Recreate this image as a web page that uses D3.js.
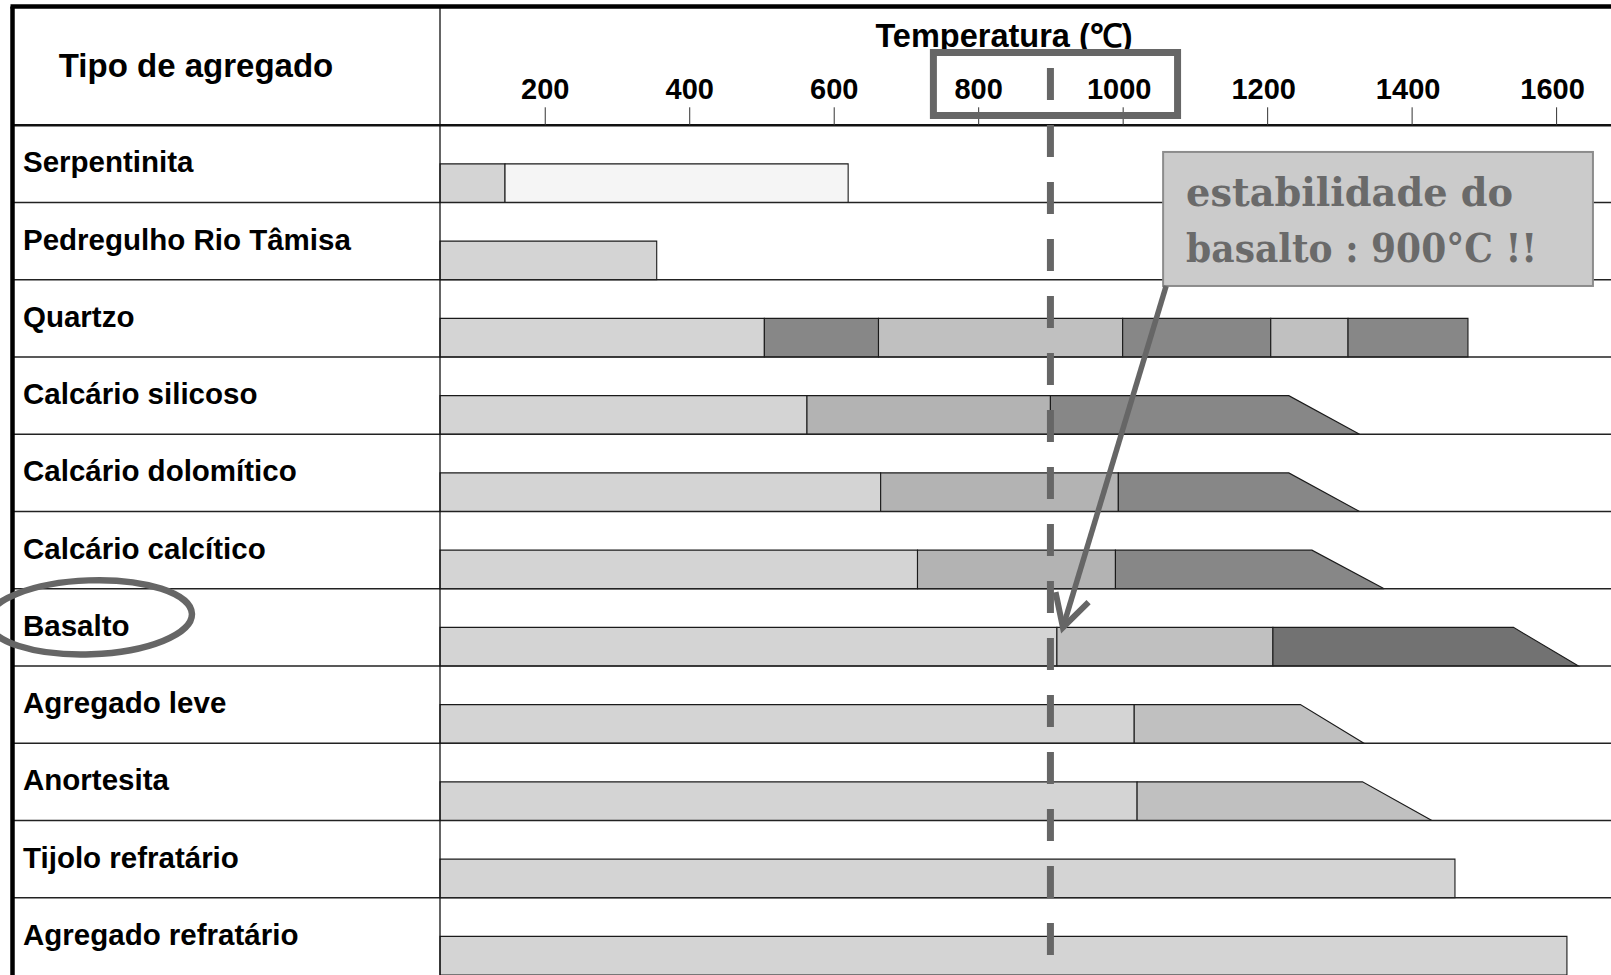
<!DOCTYPE html>
<html><head><meta charset="utf-8">
<script src="https://cdn.jsdelivr.net/npm/d3@7"></script>
<style>html,body{margin:0;padding:0;background:#fff;overflow:hidden}</style>
</head><body>
<svg id="chart" width="1611" height="975"></svg>
<script>
// ---------- data ----------
const materials = ["Serpentinita","Pedregulho Rio Tâmisa","Quartzo","Calcário silicoso","Calcário dolomítico","Calcário calcítico","Basalto","Agregado leve","Anortesita","Tijolo refratário","Agregado refratário"];
// segment end temperatures (°C) per material
const segEnds = [
  [145, 620],
  [355],
  [504, 662, 1000, 1205, 1312, 1478],
  [563, 900, 1230],
  [665, 994, 1230],
  [716, 990, 1262],
  [909, 1208, 1541],
  [1016, 1246],
  [1020, 1332],
  [1460],
  [1615]
];
// shade of each segment
const segShades = [
  ["light","pale"],
  ["light"],
  ["light","dark","mid","dark","mid","dark"],
  ["light","midDark","dark"],
  ["light","midDark","dark"],
  ["light","midDark","dark"],
  ["light","mid","darker"],
  ["light","mid"],
  ["light","mid"],
  ["light"],
  ["light"]
];
// temperature reached by the sloped tail at the bottom of the bar (null = square end)
const tailEnds = [null, null, null, 1328, 1328, 1362, 1631, 1334, 1428, null, null];
const tickValues = [200, 400, 600, 800, 1000, 1200, 1400, 1600];
const axisTitle = "Temperatura (℃)";
const columnTitle = "Tipo de agregado";
const highlightTemp = 900;
const calloutLines = ["estabilidade do", "basalto : 900°C !!"];

// ---------- layout ----------
const W = 1611, H = 975;
const frameX = 12.5, frameY = 6.5, colX = 440, headerBottom = 125.3;
const shadeColor = {light:"#d4d4d4", pale:"#f5f5f5", mid:"#c0c0c0", midDark:"#b3b3b3", dark:"#878787", darker:"#727272"};
const font = "'Liberation Sans', Arial, Helvetica, sans-serif";

const svg = d3.select("#chart");
const x = d3.scaleLinear().domain([55, 1676]).range([colX, W]);
const y = d3.scaleBand().domain(materials).range([headerBottom, H]).paddingInner(0).paddingOuter(0);
const bw = y.bandwidth();

// bars
const gBars = svg.append("g");
materials.forEach((m, i) => {
  const top = y(m) + bw / 2, bot = y(m) + bw;
  let start = x.domain()[0];
  segEnds[i].forEach((e, j) => {
    const last = j === segEnds[i].length - 1;
    const tail = last && tailEnds[i] != null ? tailEnds[i] : e;
    const pts = [[x(start), top], [x(e), top], [x(tail), bot], [x(start), bot]];
    gBars.append("polygon")
      .attr("points", pts.map(p => p.join(",")).join(" "))
      .attr("fill", shadeColor[segShades[i][j]])
      .attr("stroke", "#1a1a1a").attr("stroke-width", 1.1);
    start = e;
  });
});

// row lines
const gGrid = svg.append("g");
materials.slice(1).forEach(m => {
  gGrid.append("line").attr("x1", frameX).attr("x2", W).attr("y1", y(m)).attr("y2", y(m))
    .attr("stroke", "#222").attr("stroke-width", 1.4);
});
// header bottom
gGrid.append("line").attr("x1", frameX).attr("x2", W).attr("y1", headerBottom).attr("y2", headerBottom)
  .attr("stroke", "#111").attr("stroke-width", 2.6);
// column divider
gGrid.append("line").attr("x1", colX).attr("x2", colX).attr("y1", frameY).attr("y2", H)
  .attr("stroke", "#111").attr("stroke-width", 1.3);
// frame
gGrid.append("line").attr("x1", frameX - 2).attr("x2", W).attr("y1", frameY).attr("y2", frameY)
  .attr("stroke", "#000").attr("stroke-width", 4.5);
gGrid.append("line").attr("x1", frameX).attr("x2", frameX).attr("y1", frameY).attr("y2", H)
  .attr("stroke", "#000").attr("stroke-width", 4.5);

// axis (ticks + labels) at header bottom
const axis = d3.axisTop(x).tickValues(tickValues).tickSize(18).tickPadding(8).tickFormat(d3.format("d"));
const gAxis = svg.append("g").attr("transform", `translate(0,${headerBottom})`).call(axis);
gAxis.select(".domain").remove();
gAxis.selectAll(".tick line").attr("stroke", "#333").attr("stroke-width", 1);
gAxis.selectAll(".tick text").attr("font-family", font).attr("font-weight", "bold")
  .attr("font-size", 29).attr("fill", "#000").attr("dy", 0)
  .attr("dx", d => d >= 1000 ? -4 : 0);

// axis title
svg.append("text").attr("x", 1004).attr("y", 47).attr("text-anchor", "middle")
  .attr("font-family", font).attr("font-weight", "bold").attr("font-size", 32.5).attr("fill", "#000")
  .text(axisTitle);
// column title
svg.append("text").attr("x", 196).attr("y", 77).attr("text-anchor", "middle")
  .attr("font-family", font).attr("font-weight", "bold").attr("font-size", 33).attr("fill", "#000")
  .text(columnTitle);
// row labels
svg.append("g").selectAll("text").data(materials).join("text")
  .attr("x", 23).attr("y", d => y(d) + bw * 0.61)
  .attr("font-family", font).attr("font-weight", "bold").attr("font-size", 29.5).attr("fill", "#000")
  .text(d => d);

// ---------- annotations ----------
const annoColor = "#666";
// dashed line at 900 °C
svg.append("line").attr("x1", x(highlightTemp)).attr("x2", x(highlightTemp)).attr("y1", 68).attr("y2", H)
  .attr("stroke", annoColor).attr("stroke-width", 7).attr("stroke-dasharray", "32 25");
// highlight box around 800-1000 ticks
svg.append("rect").attr("x", x(738)).attr("y", 52.5).attr("width", x(1076) - x(738)).attr("height", 63)
  .attr("fill", "none").attr("stroke", annoColor).attr("stroke-width", 7);
// ellipse around Basalto
svg.append("ellipse").attr("cx", 90).attr("cy", y("Basalto") + bw * 0.37).attr("rx", 102).attr("ry", 37)
  .attr("transform", `rotate(-2, 90, ${y("Basalto") + bw * 0.37})`)
  .attr("fill", "none").attr("stroke", annoColor).attr("stroke-width", 6.5);

// callout box
const cx0 = x(1056), cx1 = x(1651), cy0 = y(materials[0]) + bw * 0.345, cy1 = y(materials[2]) + bw * 0.08;
svg.append("rect").attr("x", cx0).attr("y", cy0).attr("width", cx1 - cx0).attr("height", cy1 - cy0)
  .attr("fill", "#cbcbcb").attr("stroke", "#8c8c8c").attr("stroke-width", 2);
const lineLens = [327, 351];
calloutLines.forEach((t, i) => {
  svg.append("text").attr("x", cx0 + 23).attr("y", cy0 + 54 + i * 56)
    .attr("font-family", "'DejaVu Serif', 'Liberation Serif', serif").attr("font-weight", "bold")
    .attr("font-size", 40).attr("fill", "#6a6a6a")
    .attr("textLength", lineLens[i]).attr("lengthAdjust", "spacingAndGlyphs")
    .text(t);
});

// arrow from callout to basalt transition
const tipX = x(segEnds[6][0]) + 6, tipY = y("Basalto") + bw / 2;
const startX = cx0 + 3, startY = cy1;
svg.append("line").attr("x1", startX).attr("y1", startY).attr("x2", tipX).attr("y2", tipY)
  .attr("stroke", annoColor).attr("stroke-width", 5.5);
const ang = Math.atan2(startY - tipY, startX - tipX);
const armLen = 36, spread = 0.5;
const arm = a => [tipX + armLen * Math.cos(a), tipY + armLen * Math.sin(a)];
const pA = arm(ang - spread), pB = arm(ang + spread);
svg.append("path").attr("d", `M${pA[0]},${pA[1]} L${tipX},${tipY} L${pB[0]},${pB[1]}`)
  .attr("fill", "none").attr("stroke", annoColor).attr("stroke-width", 6).attr("stroke-linejoin", "miter");
</script>
</body></html>
